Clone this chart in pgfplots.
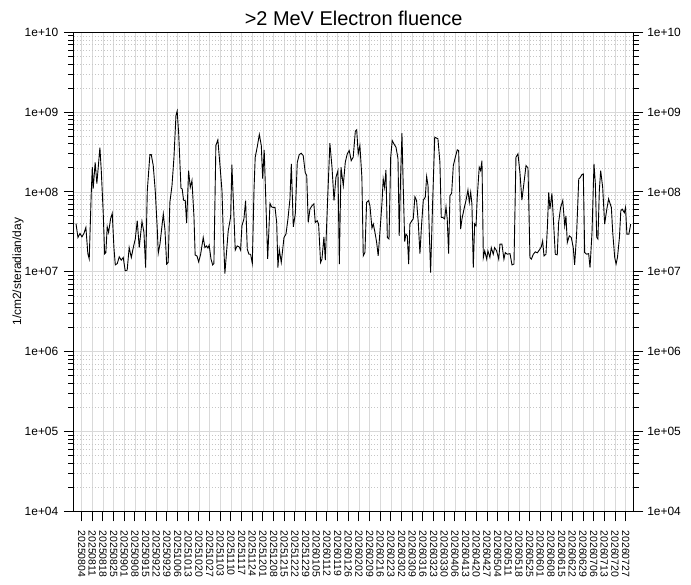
\documentclass[border=0pt]{standalone}
\usepackage{fontspec}
\setmainfont{Liberation Sans}
\usepackage{pgfplots}
\pgfplotsset{compat=1.18}
\begin{document}
\begin{tikzpicture}
\useasboundingbox (-74bp,-73.7bp) rectangle (617bp,511.3bp);
\begin{axis}[
 at={(0,0)}, anchor=south west,
 scale only axis, width=559.3bp, height=479bp,
 ymode=log, ymin=1e4, ymax=1e10,
 xmin=-5, xmax=362,
 xtick={0,7,...,357},
 xticklabels={20250804,20250811,20250818,20250825,20250901,20250908,20250915,20250922,20250929,20251006,20251013,20251020,20251027,20251103,20251110,20251117,20251124,20251201,20251208,20251215,20251222,20251229,20260105,20260112,20260119,20260126,20260202,20260209,20260216,20260223,20260302,20260309,20260316,20260323,20260330,20260406,20260413,20260420,20260427,20260504,20260511,20260518,20260525,20260601,20260608,20260615,20260622,20260629,20260706,20260713,20260720,20260727},
 ytick={1e4,1e5,1e6,1e7,1e8,1e9,1e10},
 yticklabels={1e+04,1e+05,1e+06,1e+07,1e+08,1e+09,1e+10},
 tick align=outside,
 major tick length=10bp, minor tick length=5.5bp,
 xtick pos=bottom, ytick pos=left,
 xmajorgrids=true, ymajorgrids=true, yminorgrids=true,
 minor x tick num=0,
 major grid style={gray!30, line width=0.8bp},
 minor grid style={gray!45, dash pattern=on 1bp off 2bp, line width=0.6bp},
 axis line style={line width=1bp},
 every tick/.style={black, line width=1bp},
 xticklabel shift=0pt, yticklabel shift=0pt,
 x tick label style={yshift=-9.2bp, rotate=-90, anchor=west, inner sep=0pt, font=\fontsize{10.5}{12}\selectfont},
 y tick label style={anchor=east, xshift=-5.5bp, inner sep=0pt, font=\fontsize{12}{14}\selectfont},
 title={>2 MeV Electron fluence},
 title style={font=\fontsize{20}{24}\selectfont, at={(axis description cs:0.5,1)}, anchor=south, inner sep=0pt, text depth=0pt, yshift=0.6bp},
 ylabel={1/cm2/steradian/day},
 ylabel style={font=\fontsize{12}{14}\selectfont, at={(axis description cs:-0.100,0.5)}, anchor=center},
]
\addplot[black, line width=0.9bp] coordinates {
(-3.7,4.03e7) (-2.4,2.69e7) (-1.1,3.02e7) (0.2,2.74e7) (1.5,3.02e7) (2.8,3.59e7) (4.1,1.68e7) (5.0,1.45e7)
(6.3,9.5e7) (7.0,2.04e8) (7.6,1.10e8) (8.9,2.35e8) (10.0,1.27e8) (12.0,3.60e8) (12.9,1.85e8) (14.2,5.3e7)
(15.1,1.68e7) (15.9,1.74e7) (16.8,3.66e7) (17.7,3.11e7) (19.0,4.6e7) (20.1,5.4e7) (21.2,2.01e7) (22.1,1.22e7)
(23.4,1.27e7) (24.7,1.54e7) (26.0,1.40e7) (27.3,1.51e7) (28.6,1.03e7) (29.9,1.05e7) (31.2,2.01e7) (32.6,1.51e7)
(33.9,2.01e7) (35.2,2.57e7) (36.5,4.36e7) (37.8,2.01e7) (39.6,4.27e7) (40.9,3.11e7) (42.0,1.13e7) (43.1,1.04e8)
(44.8,2.94e8) (45.7,2.94e8) (47.0,2.14e8) (48.3,1.04e8) (49.6,3.59e7) (50.3,1.71e7) (51.4,2.22e7) (53.6,5.3e7)
(54.7,3.33e7) (55.8,1.25e7) (56.8,1.31e7) (57.9,7.4e7) (59.3,1.20e8) (60.6,2.72e8) (61.9,9.09e8) (62.7,1.03e9)
(63.7,5.35e8) (65.2,1.11e8) (66.0,1.09e8) (66.9,7.9e7) (68.0,7.8e7) (68.9,4.08e7) (70.2,1.85e8) (71.3,1.14e8)
(72.4,1.39e8) (73.7,5.0e7) (74.5,1.62e7) (75.7,1.58e7) (76.8,1.33e7) (78.1,1.66e7) (79.8,2.69e7) (80.9,2.01e7)
(82.0,2.11e7) (82.9,1.98e7) (83.7,2.16e7) (84.9,1.44e7) (86.0,1.22e7) (86.8,1.27e7) (88.1,3.82e8) (89.4,4.50e8)
(90.8,2.14e8) (92.1,1.04e8) (92.9,3.26e7) (94.0,9.5e6) (95.2,1.87e7) (96.2,3.26e7) (97.8,4.9e7) (98.6,2.20e8)
(100.0,4.8e7) (100.8,1.87e7) (102.1,2.11e7) (103.4,2.05e7) (104.3,1.87e7) (105.2,3.77e7) (106.5,4.6e7) (107.6,7.8e7)
(108.7,1.92e7) (109.8,1.66e7) (110.9,1.66e7) (112.0,1.27e7) (113.1,1.04e8) (113.9,2.72e8) (115.2,3.63e8) (116.6,5.25e8)
(117.9,3.82e8) (118.8,1.47e8) (119.8,3.37e8) (122.1,1.45e7) (123.6,7.2e7) (124.7,6.5e7) (125.7,6.4e7) (126.9,6.4e7)
(128.0,4.15e7) (128.8,1.13e7) (129.7,1.92e7) (131.0,1.31e7) (132.8,2.69e7) (134.1,2.97e7) (135.4,4.6e7) (136.7,8.2e7)
(137.6,2.25e8) (138.9,3.66e7) (140.2,5.3e7) (141.5,2.35e8) (142.8,2.94e8) (144.1,3.05e8) (145.4,2.86e8) (146.7,1.76e8)
(147.7,1.60e8) (148.7,4.15e7) (149.8,6.1e7) (151.1,6.7e7) (152.4,7.1e7) (153.3,4.15e7) (154.6,4.36e7) (155.5,3.97e7)
(156.8,1.31e7) (157.7,1.44e7) (159.0,2.74e7) (159.9,1.40e7) (161.4,7.8e7) (162.9,4.08e8) (164.3,2.04e8) (165.6,7.8e7)
(166.9,1.53e8) (168.2,1.85e8) (169.1,1.25e7) (170.2,2.04e8) (171.7,1.20e8) (173.0,2.35e8) (174.3,3.00e8) (175.6,3.30e8)
(176.9,2.47e8) (178.2,2.72e8) (179.6,5.77e8) (180.5,6.01e8) (181.5,3.00e8) (182.6,3.82e8) (183.9,1.53e8) (184.8,1.58e7)
(185.9,1.74e7) (187.0,7.4e7) (188.3,7.8e7) (189.2,6.7e7) (190.5,3.53e7) (191.4,3.97e7) (192.5,3.11e7) (193.6,2.33e7)
(194.6,1.58e7) (195.8,3.26e7) (197.1,7.4e7) (197.9,1.46e8) (198.8,1.14e8) (199.7,1.89e8) (200.6,2.69e7) (201.7,2.57e7)
(202.8,2.72e8) (203.8,4.41e8) (204.9,4.01e8) (206.3,3.63e8) (207.6,2.60e8) (208.4,2.82e7) (209.3,1.53e8) (210.2,5.44e8)
(211.1,1.04e8) (212.0,2.39e7) (212.8,2.97e7) (213.7,2.82e7) (214.6,1.25e7) (215.4,3.97e7) (216.7,4.36e7) (217.6,4.6e7)
(218.7,8.7e7) (219.8,7.8e7) (220.9,4.15e7) (222.0,1.69e7) (223.1,3.97e7) (224.2,7.9e7) (225.5,8.6e7) (226.4,1.56e8)
(227.3,1.20e8) (228.1,3.26e7) (229.0,9.8e6) (230.3,7.1e7) (231.7,4.86e8) (233.0,4.71e8) (233.8,4.63e8) (235.1,2.35e8)
(236.0,4.8e7) (236.9,4.8e7) (238.2,4.6e7) (239.1,6.5e7) (239.9,4.6e7) (240.8,1.69e7) (241.7,9.0e7) (242.8,9.6e7)
(243.9,2.14e8) (245.2,2.72e8) (246.5,3.37e8) (247.4,3.30e8) (248.7,3.43e7) (249.6,4.6e7) (250.9,6.1e7) (252.2,7.8e7)
(253.5,1.06e8) (254.4,7.4e7) (255.3,9.9e7) (256.1,7.1e7) (257.0,1.13e7) (257.9,3.97e7) (258.8,3.77e7) (259.6,8.6e7)
(260.9,2.04e8) (261.8,1.85e8) (262.7,2.47e8) (263.6,1.51e7) (264.5,1.83e7) (265.8,1.44e7) (266.6,1.83e7) (267.9,1.51e7)
(268.8,2.01e7) (270.1,1.66e7) (271.0,2.01e7) (272.3,1.83e7) (273.7,1.44e7) (274.5,2.22e7) (275.8,2.22e7) (277.1,1.44e7)
(278.0,1.74e7) (279.3,1.66e7) (281.1,1.69e7) (282.4,1.22e7) (283.7,1.25e7) (285.0,2.72e8) (286.3,3.00e8) (287.6,1.76e8)
(288.9,7.9e7) (290.3,1.32e8) (291.6,2.14e8) (292.9,2.00e8) (294.2,1.51e7) (295.1,1.44e7) (296.4,1.66e7) (297.7,1.78e7)
(299.0,1.73e7) (300.3,1.87e7) (301.6,2.05e7) (302.5,2.44e7) (303.4,1.58e7) (304.7,1.66e7) (305.6,3.53e7) (306.5,9.9e7)
(307.3,6.1e7) (308.6,9.6e7) (309.5,4.8e7) (310.8,1.66e7) (312.1,1.63e7) (313.0,4.15e7) (314.3,6.4e7) (315.7,7.8e7)
(317.0,3.77e7) (317.8,5.0e7) (318.7,2.33e7) (320.0,2.82e7) (321.3,2.69e7) (322.6,2.01e7) (323.5,1.22e7) (324.8,2.97e7)
(326.2,1.46e8) (327.0,1.50e8) (328.3,1.65e8) (329.2,1.68e8) (330.1,1.74e7) (331.4,1.66e7) (332.7,1.69e7) (333.6,1.13e7)
(334.9,3.11e7) (336.2,2.25e8) (337.1,1.26e8) (338.0,2.69e7) (338.8,2.57e7) (339.7,1.04e8) (340.6,1.85e8) (341.9,1.14e8)
(343.2,3.97e7) (344.5,5.9e7) (345.8,8.2e7) (346.7,7.2e7) (347.6,6.4e7) (348.5,3.11e7) (349.8,1.51e7) (350.7,1.25e7)
(351.6,1.51e7) (352.9,2.69e7) (353.8,5.8e7) (354.7,6.1e7) (356.1,5.5e7) (356.9,6.4e7) (357.8,2.97e7) (359.1,2.97e7)
(360.3,3.97e7)
};
\end{axis}
\begin{axis}[
 at={(0,0)}, anchor=south west,
 scale only axis, width=559.3bp, height=479bp,
 ymode=log, ymin=1e4, ymax=1e10,
 xmin=-5, xmax=362,
 hide x axis,
 axis y line*=right,
 ytick={1e4,1e5,1e6,1e7,1e8,1e9,1e10},
 yticklabels={1e+04,1e+05,1e+06,1e+07,1e+08,1e+09,1e+10},
 tick align=outside,
 major tick length=10bp, minor tick length=5.5bp,
 axis line style={line width=1bp},
 every tick/.style={black, line width=1bp},
 yticklabel shift=0pt,
 y tick label style={anchor=west, xshift=3.8bp, inner sep=0pt, font=\fontsize{12}{14}\selectfont},
]
\addplot[draw=none] coordinates {(0,1e5)};
\end{axis}
\end{tikzpicture}
\end{document}
